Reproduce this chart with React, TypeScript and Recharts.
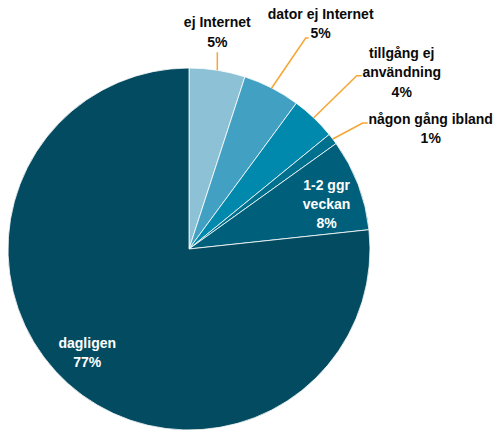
import { Cell, Pie, PieChart } from "recharts";

// Internetanvändning — andel per kategori, medurs från klockan 12.
const NAMES = ["ej Internet", "dator ej Internet", "tillgång ej användning", "någon gång ibland", "1-2 ggr veckan", "dagligen"];
const VALUES = [5.0, 5.1, 4.0, 1.0, 8.2, 76.7];
const PCT_LABELS = ["5%", "5%", "4%", "1%", "8%", "77%"];
const LABEL_LINES = [["ej Internet"], ["dator ej Internet"], ["tillgång ej", "användning"], ["någon gång ibland"], ["1-2 ggr", "veckan"], ["dagligen"]];
const COLORS = ["#8cc1d6", "#42a1c3", "#0088ad", "#00708f", "#005f7b", "#034b61"];

const FONT = "'Liberation Sans', Arial, Helvetica, sans-serif";
const LEADER = "#f7a531";
const TOTAL = VALUES.reduce((a, b) => a + b, 0);
const CX = 189;
const CY = 249;
const R = 181;

// Leader elbows / text offsets for the outside labels (layout only, not data).
const ELBOW: Record<number, [number, number, number]> = {
  0: [0, -18, 0],
  1: [34, -50, 3],
  2: [43, -42, 5],
  3: [30, -16, 5],
};
const TEXT_OFF: Record<number, [number, number]> = {
  0: [0, -30],
  1: [12, -24],
  2: [40, -23],
  3: [63, -4],
};

const data = NAMES.map((name, i) => ({ name, value: VALUES[i] }));

// clockwise angle from 12 o'clock, in radians, at the middle of slice i
function midTheta(i: number) {
  const before = VALUES.slice(0, i).reduce((a, b) => a + b, 0);
  return ((before + VALUES[i] / 2) / TOTAL) * 2 * Math.PI;
}

function PieLabel(props: any) {
  const { index } = props;
  const lines = [...LABEL_LINES[index], PCT_LABELS[index]];
  const th = midTheta(index);
  const elbow = ELBOW[index];
  if (!elbow) {
    const r = R * 0.8;
    const t = th + (2.7 * Math.PI) / 180;
    const x = CX + r * Math.sin(t);
    const y = CY - r * Math.cos(t);
    const top = y - ((lines.length - 1) * 19) / 2;
    return (
      <text textAnchor="middle" fill="#fff" fontFamily={FONT} fontWeight="bold" fontSize={14}>
        {lines.map((l, k) => (
          <tspan key={k} x={x} y={top + k * 19} dominantBaseline="central">
            {l}
          </tspan>
        ))}
      </text>
    );
  }
  const ax = CX + R * Math.sin(th);
  const ay = CY - R * Math.cos(th);
  const ex = ax + elbow[0];
  const ey = ay + elbow[1];
  const hx = ex + elbow[2];
  const [tx, ty] = TEXT_OFF[index];
  return (
    <g>
      <polyline points={`${ax},${ay} ${ex},${ey} ${hx},${ey}`} fill="none" stroke={LEADER} strokeWidth={1.5} />
      <text textAnchor="middle" fill="#0a0a0a" fontFamily={FONT} fontWeight="bold" fontSize={14}>
        {lines.map((l, k) => (
          <tspan key={k} x={hx + tx} y={ey + ty + k * 19.5} dominantBaseline="central">
            {l}
          </tspan>
        ))}
      </text>
    </g>
  );
}

export default function App() {
  return (
    <div style={{ position: "absolute", left: 0, top: 0, width: 496, height: 431, background: "#fff" }}>
      <PieChart width={496} height={431} margin={{ top: 0, right: 0, bottom: 0, left: 0 }}>
        <Pie
          data={data}
          dataKey="value"
          nameKey="name"
          cx={CX}
          cy={CY}
          outerRadius={R}
          startAngle={90}
          endAngle={-270}
          stroke="#fff"
          strokeWidth={0.8}
          label={PieLabel}
          labelLine={false}
          isAnimationActive={false}
        >
          {data.map((d, i) => (
            <Cell key={d.name} fill={COLORS[i]} />
          ))}
        </Pie>
      </PieChart>
    </div>
  );
}
